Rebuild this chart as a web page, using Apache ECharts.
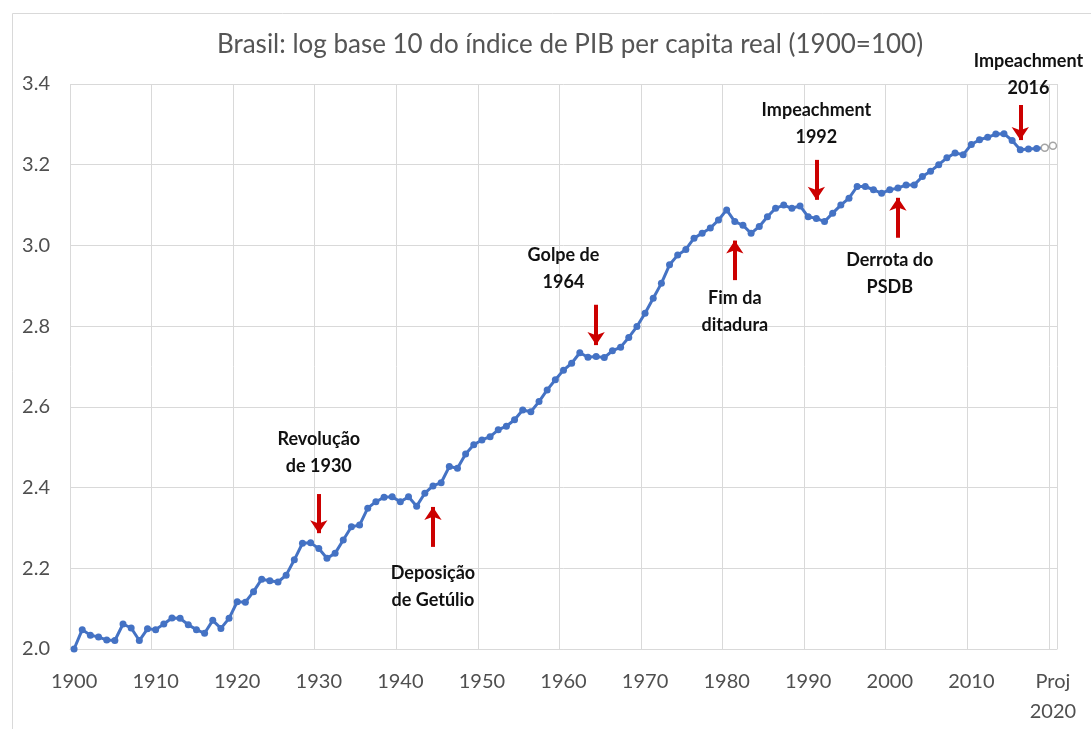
<!DOCTYPE html>
<html><head><meta charset="utf-8">
<script src="https://cdn.jsdelivr.net/npm/echarts@6/dist/echarts.min.js"></script>
<style>html,body{margin:0;padding:0;background:#fff}#c{width:1091px;height:729px}</style>
</head><body><div id="c"></div>
<script>
const titleText = 'Brasil: log base 10 do índice de PIB per capita real (1900=100)';
const years = ['1900','1901','1902','1903','1904','1905','1906','1907','1908','1909',
 '1910','1911','1912','1913','1914','1915','1916','1917','1918','1919',
 '1920','1921','1922','1923','1924','1925','1926','1927','1928','1929',
 '1930','1931','1932','1933','1934','1935','1936','1937','1938','1939',
 '1940','1941','1942','1943','1944','1945','1946','1947','1948','1949',
 '1950','1951','1952','1953','1954','1955','1956','1957','1958','1959',
 '1960','1961','1962','1963','1964','1965','1966','1967','1968','1969',
 '1970','1971','1972','1973','1974','1975','1976','1977','1978','1979',
 '1980','1981','1982','1983','1984','1985','1986','1987','1988','1989',
 '1990','1991','1992','1993','1994','1995','1996','1997','1998','1999',
 '2000','2001','2002','2003','2004','2005','2006','2007','2008','2009',
 '2010','2011','2012','2013','2014','2015','2016','2017','2018','2019','2020'];
// observed series 1900-2019
const logIndex = [2.000,2.048,2.034,2.030,2.022,2.021,2.062,2.052,2.021,2.050,
 2.048,2.062,2.077,2.076,2.060,2.048,2.039,2.071,2.051,2.076,
 2.117,2.116,2.142,2.173,2.169,2.166,2.183,2.221,2.262,2.263,
 2.249,2.225,2.237,2.270,2.303,2.307,2.349,2.365,2.376,2.377,
 2.365,2.377,2.354,2.386,2.404,2.412,2.452,2.448,2.483,2.506,
 2.518,2.526,2.543,2.552,2.568,2.592,2.588,2.613,2.642,2.667,
 2.691,2.708,2.734,2.723,2.725,2.722,2.739,2.748,2.772,2.799,
 2.832,2.869,2.906,2.952,2.976,2.990,3.018,3.030,3.043,3.063,
 3.088,3.059,3.050,3.030,3.047,3.071,3.092,3.100,3.092,3.098,
 3.071,3.067,3.059,3.080,3.100,3.117,3.146,3.146,3.138,3.129,
 3.138,3.142,3.150,3.150,3.171,3.184,3.200,3.217,3.229,3.225,
 3.250,3.262,3.268,3.276,3.277,3.260,3.237,3.239,3.240,3.242];
// projection segment
const projYears = ['2019','2020'];
const projValues = [3.242, 3.247];
const yTicks = [2.0, 2.2, 2.4, 2.6, 2.8, 3.0, 3.2, 3.4];
const xLabelText = {'2020': 'Proj\n2020'};
// annotations: text anchored in data space, arrows from/to values
const noteYears = ['1930','1944','1960','1981','1991','2000','2017'];
const noteValues = [2.486, 2.155, 2.942, 2.836, 3.301, 2.929, 3.400];
const noteTexts = ['Revolução\nde 1930','Deposição\nde Getúlio','Golpe de\n1964','Fim da\nditadura','Impeachment\n1992','Derrota do\nPSDB','Impeachment\n2016'];
const noteShift = [0, 0, 0, 0, 0, 0, -9];
const arrowYears = ['1930','1944','1964','1981','1991','2001','2016'];
const arrowFrom = [2.384, 2.253, 2.853, 2.914, 3.212, 3.019, 3.348];
const arrowTo   = [2.287, 2.352, 2.753, 3.012, 3.113, 3.118, 3.261];

const FONT = 'Lato';
const chart = echarts.init(document.getElementById('c'));
chart.setOption({
  animation: false,
  backgroundColor: '#fff',
  textStyle: {fontFamily: FONT},
  title: {
    text: titleText, left: 565, top: 27, textAlign: 'center',
    textStyle: {fontFamily: FONT, fontSize: 26, fontWeight: 'normal', color: '#555555'}
  },
  graphic: [{
    type: 'rect', left: 10, top: 11, silent: true,
    shape: {width: 1100, height: 740},
    style: {fill: 'none', stroke: '#d9d9d9', lineWidth: 1}
  }],
  grid: {left: 70, right: 34, top: 84, bottom: 80},
  xAxis: {
    type: 'category', data: years, boundaryGap: true,
    axisLine: {lineStyle: {color: '#d9d9d9'}},
    axisTick: {show: false, interval: 9},
    splitLine: {show: true, interval: 9, lineStyle: {color: '#d9d9d9'}},
    axisLabel: {
      interval: 9, margin: 18, color: '#4f4f4f', fontSize: 20, lineHeight: 30, fontFamily: FONT,
      formatter: v => xLabelText[v] || v
    }
  },
  yAxis: {
    type: 'value', min: yTicks[0], max: yTicks[yTicks.length-1], interval: 0.2,
    axisLine: {show: false}, axisTick: {show: false},
    splitLine: {lineStyle: {color: '#d9d9d9'}},
    axisLabel: {margin: 20, color: '#4f4f4f', fontSize: 20, fontFamily: FONT, formatter: v => v.toFixed(1)}
  },
  series: [{
    type: 'line', data: logIndex, symbol: 'circle', symbolSize: 7, showAllSymbol: true, clip: false,
    lineStyle: {color: '#4472C4', width: 3},
    itemStyle: {color: '#4472C4'},
    markLine: {
      silent: true, symbol: ['none', 'arrow'], symbolSize: [13, 13],
      label: {show: false},
      lineStyle: {color: '#CC0000', width: 4, type: 'solid'},
      data: arrowYears.map((y, i) => [{coord: [y, arrowFrom[i]]}, {coord: [y, arrowTo[i]]}])
    },
    markPoint: {
      silent: true, symbol: 'rect', symbolSize: 1,
      itemStyle: {color: 'rgba(0,0,0,0)'},
      label: {show: true, position: 'inside', formatter: '{b}', color: '#111111',
        fontFamily: FONT, fontWeight: 'bold', fontSize: 18, lineHeight: 27},
      data: noteYears.map((y, i) => ({name: noteTexts[i], coord: [y, noteValues[i]],
        label: {offset: [0, noteShift[i]]}}))
    }
  }, {
    type: 'line', data: projYears.map((y, i) => [y, projValues[i]]),
    symbol: 'circle', symbolSize: 7, showAllSymbol: true,
    lineStyle: {color: '#a5a5a5', width: 2},
    itemStyle: {color: '#ffffff', borderColor: '#a5a5a5', borderWidth: 1.5}
  }]
});
</script></body></html>
